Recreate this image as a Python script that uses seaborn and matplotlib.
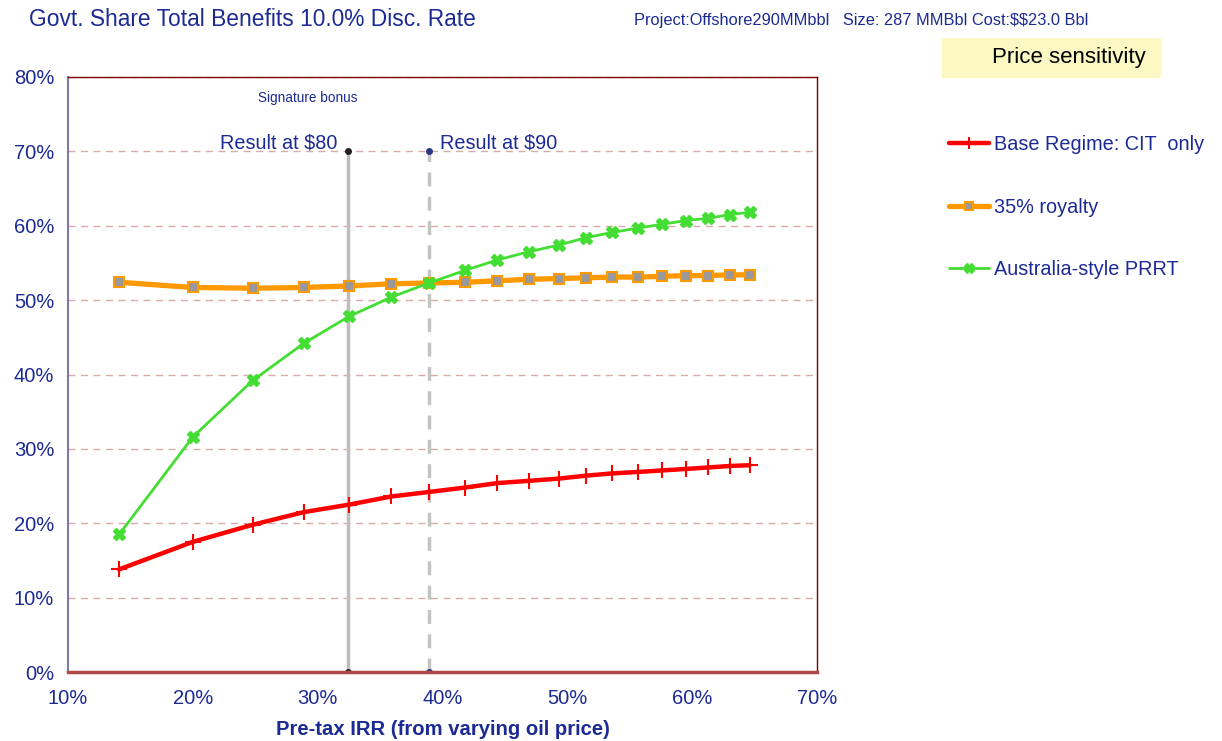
import matplotlib
matplotlib.use("agg")
import matplotlib.pyplot as plt
from matplotlib.patches import Rectangle
from matplotlib.ticker import PercentFormatter
import pandas as pd
import seaborn as sns

# pre-tax IRR (%) for each oil price step
irr = [14.1, 20.0, 24.8, 28.9, 32.5, 35.9, 38.9, 41.8, 44.4, 46.9,
       49.3, 51.5, 53.6, 55.7, 57.6, 59.5, 61.3, 63.0, 64.6]
# government share of total benefits (%)
base_cit = [13.8, 17.5, 19.8, 21.5, 22.5, 23.6, 24.2, 24.8, 25.4, 25.7,
            26.0, 26.4, 26.7, 26.9, 27.1, 27.3, 27.5, 27.7, 27.8]
royalty35 = [52.4, 51.7, 51.6, 51.7, 51.9, 52.2, 52.3, 52.4, 52.6, 52.8,
             52.9, 53.0, 53.1, 53.1, 53.2, 53.3, 53.3, 53.4, 53.4]
prrt = [18.5, 31.6, 39.2, 44.2, 47.8, 50.4, 52.3, 54.0, 55.4, 56.5,
        57.4, 58.4, 59.1, 59.7, 60.2, 60.7, 61.0, 61.5, 61.8]
series_names = ["Base Regime: CIT  only", "35% royalty", "Australia-style PRRT"]

result_irr = [32.44, 38.93]
result_labels = ["Result at $80", "Result at $90"]
result_top = 70

navy = "#1c2a94"

df = pd.DataFrame({"irr": irr * 3,
                   "share": base_cit + royalty35 + prrt,
                   "series": [series_names[0]] * len(irr)
                   + [series_names[1]] * len(irr)
                   + [series_names[2]] * len(irr)})

sns.set_theme(style="white")
plt.rcParams["font.family"] = ["Liberation Sans", "DejaVu Sans"]
plt.rcParams["text.parse_math"] = False

fig = plt.figure(figsize=(12.22, 7.41), dpi=100)
ax = fig.add_axes([68 / 1222, 69 / 741, 749 / 1222, 595 / 741])

# horizontal dashed grid
ax.yaxis.grid(True, color="#d9aaaa", linestyle=(0, (5, 4)), lw=1)
ax.set_axisbelow(True)

# the two price markers
ax.plot([result_irr[0]] * 2, [0, result_top], color="#bdbdbd", lw=2.5,
        marker="o", ms=4, mfc="#222222", mec="#222222", zorder=2)
ax.plot([result_irr[1]] * 2, [0, result_top], color="#c4c4c4", lw=2.5,
        ls=(0, (4, 3)), marker="o", ms=4, mfc="#2a3a80", mec="#2a3a80", zorder=2)
ax.text(result_irr[0] - 0.9, 71.1, result_labels[0], ha="right",
        va="center", color=navy, fontsize=14.3)
ax.text(result_irr[1] + 0.85, 71.1, result_labels[1], ha="left",
        va="center", color=navy, fontsize=14.3)
ax.text(25.2, 77.2, "Signature bonus", color=navy, fontsize=9.8, va="center")

styles = {
    series_names[0]: dict(color="#ff0000", lw=3.2, marker="+", ms=11, mew=1.5),
    series_names[1]: dict(color="#ff9900", lw=3.8, marker="s", ms=7,
                          mfc="#999999", mec="#ff9900", mew=1.5),
    series_names[2]: dict(color="#44dd33", lw=2.0, marker="X", ms=8,
                          mfc="#44dd33", mec="#44dd33"),
}
handles = []
for name in series_names:
    sub = df[df["series"] == name]
    st = styles[name]
    sns.lineplot(data=sub, x="irr", y="share", ax=ax, color=st["color"],
                 lw=st["lw"], marker=st["marker"], markersize=st["ms"],
                 markeredgewidth=st.get("mew", 1),
                 markerfacecolor=st.get("mfc", st["color"]),
                 markeredgecolor=st.get("mec", st["color"]),
                 label=name, legend=False, zorder=3)
    handles.append(ax.lines[-1])

ax.set_xlim(10, 70)
ax.set_ylim(0, 80)
ax.set_xticks(range(10, 71, 10))
ax.set_yticks(range(0, 81, 10))
ax.xaxis.set_major_formatter(PercentFormatter(decimals=0))
ax.yaxis.set_major_formatter(PercentFormatter(decimals=0))
ax.tick_params(axis="both", labelsize=14.5, labelcolor=navy)
ax.tick_params(axis="y", direction="out", length=5, color="#8080a8", pad=5)
ax.tick_params(axis="x", direction="in", length=4, color="#8080a8", pad=12)
ax.set_xlabel("Pre-tax IRR (from varying oil price)", color=navy,
              fontsize=14.6, fontweight="bold", labelpad=9)
ax.set_ylabel("")

for side in ["top", "right"]:
    ax.spines[side].set_color("#800000")
    ax.spines[side].set_linewidth(1)
ax.spines["left"].set_color("#8078a8")
ax.spines["left"].set_linewidth(1.5)
ax.spines["bottom"].set_color("#b04848")
ax.spines["bottom"].set_linewidth(2.5)

fig.legend(handles=handles, labels=series_names, loc="upper left",
           bbox_to_anchor=(941 / 1222, 1 - 127 / 741), frameon=False,
           fontsize=14.3, labelcolor=navy, handlelength=2.0, handletextpad=0.25,
           labelspacing=2.2, borderaxespad=0, markerscale=0.85)

fig.text(29 / 1222, 1 - 20 / 741, "Govt. Share Total Benefits 10.0% Disc. Rate",
         color=navy, fontsize=16.4, va="center")
fig.text(634 / 1222, 1 - 20 / 741,
         "Project:Offshore290MMbbl   Size: 287 MMBbl Cost:$$23.0 Bbl",
         color=navy, fontsize=11.8, va="center")
fig.patches.append(Rectangle((942 / 1222, 1 - 78 / 741), 219 / 1222, 40 / 741,
                             transform=fig.transFigure, fc="#fbf8c4", ec="none"))
fig.text(992 / 1222, 1 - 58 / 741, "Price sensitivity", color="black",
         fontsize=16, ha="left", va="center")

fig.savefig("out.png", dpi=100)
